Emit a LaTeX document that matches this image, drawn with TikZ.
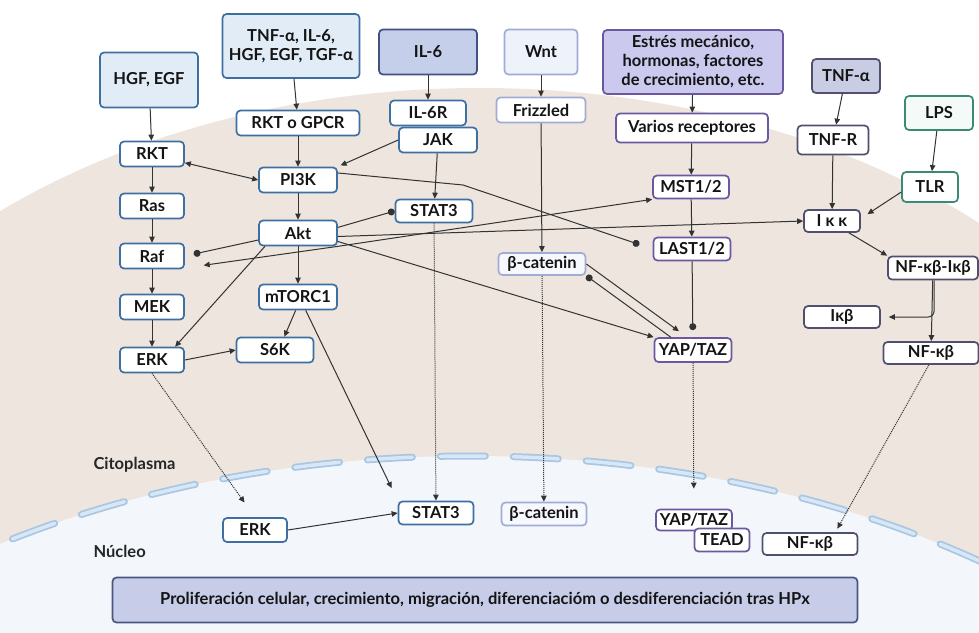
\documentclass[tikz,border=0pt]{standalone}
\usepackage{fontspec}
\setmainfont{Lato}
\usetikzlibrary{arrows.meta}

\definecolor{cellbg}{HTML}{EDE5DE}
\definecolor{nucbg}{HTML}{F3F7FC}
\definecolor{membout}{HTML}{A9C6E2}
\definecolor{membin}{HTML}{D8E7F5}
\definecolor{blueln}{HTML}{3D6FA3}
\definecolor{bluefill}{HTML}{E1ECF7}
\definecolor{ilfill}{HTML}{C6CFEA}
\definecolor{illn}{HTML}{3F5282}
\definecolor{wntln}{HTML}{A0ACD6}
\definecolor{wntfill}{HTML}{EEF2FB}
\definecolor{purpln}{HTML}{6A58A0}
\definecolor{purpfill}{HTML}{CBC9EE}
\definecolor{slateln}{HTML}{50506E}
\definecolor{slatefill}{HTML}{C9CDE4}
\definecolor{greenln}{HTML}{3A8A75}
\definecolor{greenfill}{HTML}{F3FAF7}
\definecolor{inkc}{HTML}{333333}
\definecolor{outfill}{HTML}{C7CDE8}
\definecolor{outln}{HTML}{4A5682}

\tikzset{
  prot/.style={draw, rounded corners=4pt, line width=1.7pt, fill=white, text=black!92,
    font=\bfseries\fontsize{16.5}{19}\selectfont, inner sep=2pt, minimum height=25pt, align=center},
  bluep/.style={prot, draw=blueln},
  bluein/.style={prot, draw=blueln, fill=bluefill},
  ilin/.style={prot, draw=illn, fill=ilfill},
  wntp/.style={prot, draw=wntln},
  wntin/.style={prot, draw=wntln, fill=wntfill},
  purpp/.style={prot, draw=purpln},
  purpin/.style={prot, draw=purpln, fill=purpfill},
  slatep/.style={prot, draw=slateln},
  slatein/.style={prot, draw=slateln, fill=slatefill},
  greenp/.style={prot, draw=greenln},
  greenin/.style={prot, draw=greenln, fill=greenfill},
  outbox/.style={prot, draw=outln, fill=outfill},
  zone/.style={text=black!85, font=\bfseries\fontsize{16.5}{19}\selectfont, anchor=west},
  arr/.style={-{Triangle[length=6pt,width=5.5pt]}, inkc, line width=1pt},
  arrboth/.style={{Triangle[length=6pt,width=5.5pt]}-{Triangle[length=6pt,width=5.5pt]}, inkc, line width=1pt},
  inh/.style={-{Circle[length=7pt]}, inkc, line width=1pt},
  dotarr/.style={arr, densely dotted},
  membrane/.style={line cap=round, dash pattern=on 45pt off 28pt},
}

\begin{document}
\begin{tikzpicture}[x=1pt, y=-1pt]
	\useasboundingbox (0,0) rectangle (979,632);

	% cell and nucleus
	\begin{scope}
		\clip (0,0) rectangle (979,632);
		\fill[white] (0,0) rectangle (979,632);
		\fill[cellbg] (480,588) ellipse [x radius=730pt, y radius=500pt];
		\fill[nucbg] (470,1050) ellipse [x radius=897pt, y radius=594pt];
		\draw[membrane, membout, line width=7pt] (470,1050) ellipse [x radius=897pt, y radius=594pt];
		\draw[membrane, membin, line width=3.5pt] (470,1050) ellipse [x radius=897pt, y radius=594pt];
	\end{scope}

	% signals
	\node[bluein, minimum width=98pt, minimum height=55pt] (hgf) at (149,80) {HGF, EGF};
	\node[bluein, minimum width=137pt, minimum height=64pt] (tnf) at (291,46) {TNF-α, IL-6,\\HGF, EGF, TGF-α};
	\node[ilin, minimum width=98pt, minimum height=45pt] (il6) at (428,52) {IL-6};
	\node[wntin, minimum width=73pt, minimum height=45pt] (wnt) at (541,52) {Wnt};
	\node[purpin, minimum width=180pt, minimum height=64pt] (estres) at (693,62) {Estrés mecánico,\\hormonas, factores\\de crecimiento, etc.};
	\node[slatein, minimum width=68pt, minimum height=34pt] (tnfa) at (846,76) {TNF-α};
	\node[greenin, minimum width=68pt, minimum height=34pt] (lps) at (939,113) {LPS};

	% receptors
	\node[bluep, minimum width=123pt] (gpcr) at (298,123) {RKT o GPCR};
	\node[bluep, minimum width=76pt] (il6r) at (428,113) {IL-6R};
	\node[bluep, minimum width=78pt] (jak) at (438,140) {JAK};
	\node[wntp, minimum width=89pt] (frz) at (541,110) {Frizzled};
	\node[purpp, minimum width=152pt, minimum height=29pt] (varios) at (692,128) {Varios receptores};
	\node[slatep, minimum width=71pt, minimum height=29pt] (tnfr) at (833,140) {TNF-R};
	\node[greenp, minimum width=56pt, minimum height=30pt] (tlr) at (930,187) {TLR};

	% cytoplasm
	\node[bluep, minimum width=64pt] (rkt) at (152,154) {RKT};
	\node[bluep, minimum width=64pt] (ras) at (152,206) {Ras};
	\node[bluep, minimum width=64pt] (raf) at (152,256) {Raf};
	\node[bluep, minimum width=64pt] (mek) at (152,307) {MEK};
	\node[bluep, minimum width=64pt] (erk) at (152,360) {ERK};
	\node[bluep, minimum width=78pt] (pi3k) at (298,180) {PI3K};
	\node[bluep, minimum width=78pt] (akt) at (298,233) {Akt};
	\node[bluep, minimum width=78pt] (mtor) at (298,297) {mTORC1};
	\node[bluep, minimum width=77pt] (s6k) at (275,350) {S6K};
	\node[bluep, minimum width=77pt, minimum height=23pt] (stat3) at (434,211) {STAT3};
	\node[wntp, fill=wntfill!50, minimum width=87pt, minimum height=22pt] (bcat) at (542,264) {β-catenin};
	\node[purpp, minimum width=76pt, minimum height=23pt] (mst) at (691,187) {MST1/2};
	\node[purpp, minimum width=77pt, minimum height=23pt] (last) at (692,249) {LAST1/2};
	\node[purpp, minimum width=77pt, minimum height=24pt] (yap) at (693,350) {YAP/TAZ};
	\node[slatep, minimum width=56pt, minimum height=22pt] (ikk) at (832,221) {I κ κ};
	\node[slatep, minimum width=90pt, minimum height=23pt] (nfib) at (933,268) {NF-κβ-Iκβ};
	\node[slatep, minimum width=76pt, minimum height=22pt] (ikb) at (842,317) {Iκβ};
	\node[slatep, minimum width=95pt, minimum height=22pt] (nfk) at (931,353) {NF-κβ};
	\coordinate (pi3kbend) at (463,185);

	% nucleus
	\node[bluep, minimum width=64pt, minimum height=24pt] (erkn) at (255,530) {ERK};
	\node[bluep, minimum width=75pt, minimum height=23pt] (stat3n) at (436,513) {STAT3};
	\node[wntp, fill=wntfill!50, minimum width=85pt, minimum height=23pt] (bcatn) at (544,514) {β-catenin};
	\node[purpp, minimum width=76pt, minimum height=21pt] (yapn) at (694,520) {YAP/TAZ};
	\node[purpp, minimum width=55pt, minimum height=23pt] (tead) at (722,540) {TEAD};
	\node[slatep, minimum width=95pt, minimum height=22pt] (nfkn) at (810,544) {NF-κβ};

	\node[zone] (cito) at (90,465) {Citoplasma};
	\node[zone] (nuc) at (90,551) {Núcleo};
	\node[outbox, minimum width=745pt, minimum height=45pt] (out) at (485,600)
		{Proliferación celular, crecimiento, migración, diferenciacióm o desdiferenciación tras HPx};

	% Ras / PI3K
	\draw[arr] (hgf) -- (rkt);
	\draw[arr] (tnf) -- (gpcr);
	\draw[arr] (gpcr) -- (pi3k);
	\draw[arrboth] (rkt.-15) -- (pi3k.west);
	\draw[arr] (rkt) -- (ras);
	\draw[arr] (ras) -- (raf);
	\draw[arr] (raf) -- (mek);
	\draw[arr] (mek) -- (erk);
	\draw[arr] (pi3k) -- (akt);
	\draw[arr] (akt) -- (mtor);
	\draw[arr] (mtor.-100) -- (s6k.55);
	\draw[arr] (erk.east) -- (s6k.west);
	\draw[arr] (akt.-158) -- (erk.30);
	\draw[inh, shorten >=9pt] (akt.-170) -- (raf.east);
	\draw[arr, shorten >=19pt] (akt.south east) -- (raf.-20);
	\draw[arr] (akt.south east) -- (mst.south west);
	\draw[arr] (akt.-5) -- (ikk.west);
	\draw[arr] (akt.-12) -- (yap.north west);
	\draw[inh] (akt.8) -- (stat3.west);
	\draw[inh, shorten >=14pt] (pi3k.10) -- (pi3kbend) -- (last.west);

	% IL-6
	\draw[arr] (il6) -- (il6r);
	\draw[arr, shorten >=3pt] (jak.west) -- (pi3k.north east);
	\draw[arr] (jak) -- (stat3);
	\draw[arr, shorten >=14pt] (mtor.-60) -- (stat3n.north west);
	\draw[dotarr] (stat3) -- (stat3n);
	\draw[dotarr, shorten >=18pt] (erk.south) -- (erkn.north);
	\draw[arr] (erkn.east) -- (stat3n.west);

	% Wnt / Hippo
	\draw[arr] (wnt) -- (frz);
	\draw[arr] (frz) -- (bcat);
	\draw[dotarr] (bcat) -- (bcatn);
	\draw[arr, shorten >=10pt] (bcat.east) -- (yap.115);
	\draw[inh] (yap.150) -- (bcat.south east);
	\draw[arr] (estres) -- (varios);
	\draw[arr] (varios) -- (mst);
	\draw[arr] (mst) -- (last);
	\draw[inh, shorten >=7pt] (last) -- (yap);
	\draw[dotarr, shorten >=20pt] (yap) -- (yapn);

	% NF-kB
	\draw[arr] (tnfa) -- (tnfr);
	\draw[arr] (tnfr) -- (ikk);
	\draw[arr] (lps) -- (tlr);
	\draw[arr, shorten >=8pt] (tlr.190) -- (ikk.5);
	\draw[arr] (ikk.-35) -- (nfib.north west);
	\draw[arr, rounded corners=6pt, shorten >=8pt] (nfib.-85) |- (ikb.east);
	\draw[arr] (nfib) -- (nfk);
	\draw[dotarr, shorten >=4pt] (nfk.-100) -- (nfkn.25);
\end{tikzpicture}
\end{document}
